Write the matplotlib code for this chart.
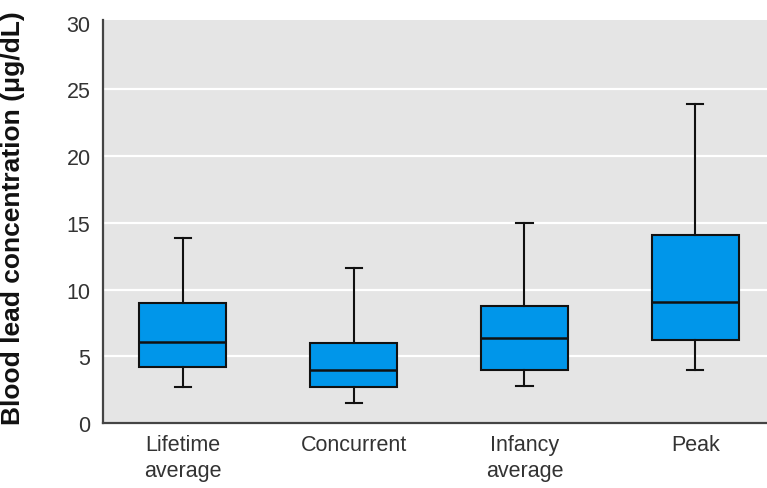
import matplotlib.pyplot as plt

# Blood lead summary per exposure measure (µg/dL)
labels = ["Lifetime\naverage", "Concurrent", "Infancy\naverage", "Peak"]
whisker_low = [2.7, 1.5, 2.8, 4.0]
q1 = [4.2, 2.7, 4.0, 6.2]
median = [6.1, 4.0, 6.4, 9.1]
q3 = [9.0, 6.0, 8.8, 14.1]
whisker_high = [13.9, 11.6, 15.0, 23.9]

stats = []
for i in range(len(labels)):
    stats.append({
        "label": labels[i],
        "whislo": whisker_low[i],
        "q1": q1[i],
        "med": median[i],
        "q3": q3[i],
        "whishi": whisker_high[i],
    })

plt.rcParams["font.family"] = ["Liberation Sans", "DejaVu Sans"]

fig = plt.figure(figsize=(7.67, 4.89), dpi=100)
ax = fig.add_axes([0.1343, 0.1329, 0.8657, 0.8241])
ax.set_facecolor("#e5e5e5")

# white horizontal grid behind the boxes
ax.set_axisbelow(True)
ax.grid(axis="y", color="white", linewidth=1.6)

ax.bxp(
    stats,
    positions=[1, 2, 3, 4],
    widths=0.51,
    capwidths=0.095,
    showfliers=False,
    patch_artist=True,
    boxprops=dict(facecolor="#0096ea", edgecolor="#111111", linewidth=1.5),
    medianprops=dict(color="#111111", linewidth=1.8),
    whiskerprops=dict(color="#111111", linewidth=1.5),
    capprops=dict(color="#111111", linewidth=1.5),
)

ax.set_xlim(0.532, 4.42)
ax.set_ylim(0, 30.2)
ax.set_yticks([0, 5, 10, 15, 20, 25, 30])

ax.tick_params(axis="both", length=0, labelsize=15.5, labelcolor="#333333")
ax.tick_params(axis="x", pad=8)
ax.tick_params(axis="y", pad=9)
for lab in ax.get_xticklabels():
    lab.set_linespacing(1.3)

# no grid line along the top edge
ax.yaxis.get_gridlines()[-1].set_visible(False)

for side in ["top", "right"]:
    ax.spines[side].set_visible(False)
for side in ["left", "bottom"]:
    ax.spines[side].set_color("#444444")
    ax.spines[side].set_linewidth(1.6)

ax.set_ylabel("Blood lead concentration (μg/dL)", fontsize=19,
              fontweight="bold", color="#111111", labelpad=8)
ax.yaxis.set_label_coords(-0.118, 0.51)

fig.savefig("out.png", dpi=100, facecolor="white")
plt.close()
